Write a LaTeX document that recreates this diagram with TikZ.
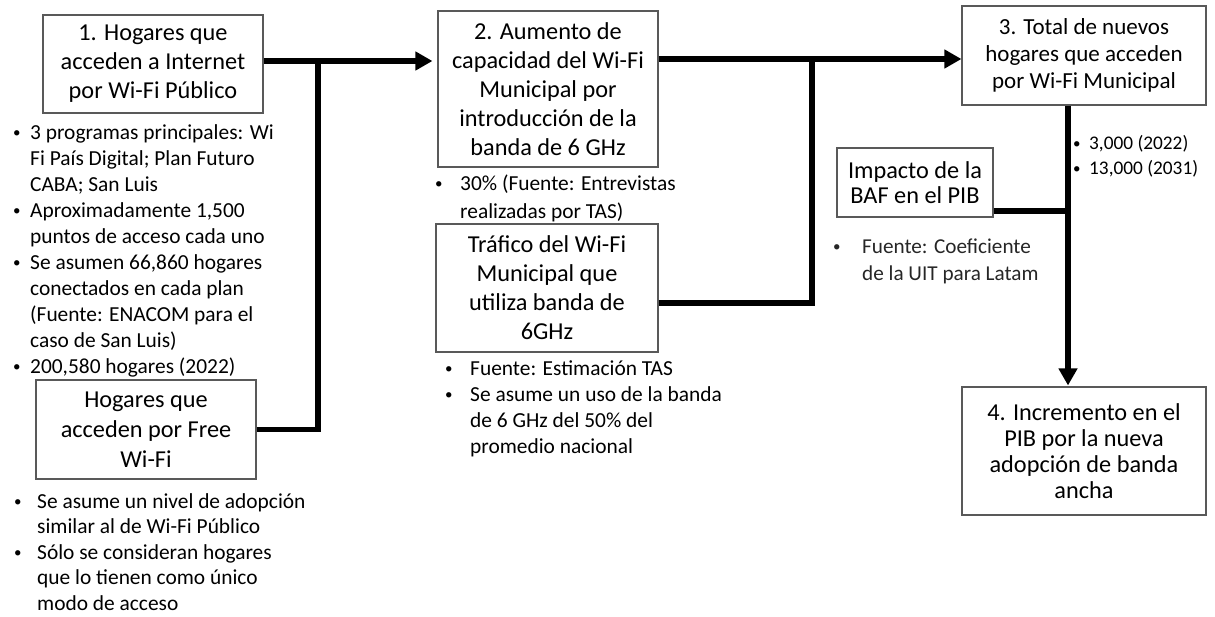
\documentclass[tikz,border=0pt]{standalone}
\usepackage{fontspec}
\setmainfont{Carlito}
\usetikzlibrary{arrows.meta}
\newcommand{\bitem}[1]{\rule{0pt}{18pt}\makebox[#1][l]{\raisebox{1.5pt}{\fontsize{15}{15}\selectfont\textbullet}}}
\newcommand{\bcont}[1]{\hspace*{#1}}
\begin{document}
\begin{tikzpicture}[x=1pt,y=-1pt,
  box/.style={draw=black!65,line width=1.1pt,inner sep=0pt,align=center,
    font=\fontsize{24.3}{29}\selectfont},
  notes/.style={inner sep=0pt,anchor=north west,align=left,
    font=\fontsize{21.4}{26}\selectfont},
  conn/.style={line width=5.5pt,line join=miter},
  arr/.style={conn,-{Triangle[length=17pt,width=18pt]}}]
\useasboundingbox (0,0) rectangle (1215,616);
% boxes
\node[box,minimum width=220pt,minimum height=98pt] (b1) at (153,64)
  {1. Hogares que\\acceden a Internet\\por Wi-Fi Público};
\node[box,minimum width=220pt,minimum height=99pt,
  font=\fontsize{24.3}{30}\selectfont] (fw) at (146,429.5)
  {Hogares que\\acceden por Free\\Wi-Fi};
\node[box,minimum width=220pt,minimum height=156pt] (b2) at (548,89)
  {2. Aumento de\\capacidad del Wi-Fi\\Municipal por\\introducción de la\\banda de 6 GHz};
\node[box,minimum width=222pt,minimum height=128pt] (tr) at (547,288)
  {Tráfico del Wi-Fi\\Municipal que\\utiliza banda de\\6GHz};
\node[box,minimum width=244pt,minimum height=99pt,
  font=\fontsize{23}{27}\selectfont] (b3) at (1084,55.5)
  {3. Total de nuevos\\hogares que acceden\\por Wi-Fi Municipal};
\node[box,minimum width=156pt,minimum height=69pt,
  font=\fontsize{24.3}{25}\selectfont] (imp) at (915,182.5)
  {Impacto de la\\BAF en el PIB};
\node[box,minimum width=244pt,minimum height=128pt,
  font=\fontsize{24.3}{26}\selectfont] (b4) at (1084,451)
  {4. Incremento en el\\PIB por la nueva\\adopción de banda\\ancha};
% notes
\node[notes] (n1) at (13,121)
  {\bitem{17pt}3 programas principales: Wi\\
   \bcont{17pt}Fi País Digital; Plan Futuro\\
   \bcont{17pt}CABA; San Luis\\
   \bitem{17pt}Aproximadamente 1,500\\
   \bcont{17pt}puntos de acceso cada uno\\
   \bitem{17pt}Se asumen 66,860 hogares\\
   \bcont{17pt}conectados en cada plan\\
   \bcont{17pt}(Fuente: ENACOM para el\\
   \bcont{17pt}caso de San Luis)\\
   \bitem{17pt}200,580 hogares (2022)};
\node[notes,font=\fontsize{21.4}{25.5}\selectfont] (n2) at (14,490)
  {\bitem{23pt}Se asume un nivel de adopción\\
   \bcont{23pt}similar al de Wi-Fi Público\\
   \bitem{23pt}Sólo se consideran hogares\\
   \bcont{23pt}que lo tienen como único\\
   \bcont{23pt}modo de acceso};
\node[notes,font=\fontsize{21.4}{28}\selectfont] (n3) at (435,172)
  {\bitem{25pt}30\% (Fuente: Entrevistas\\
   \bcont{25pt}realizadas por TAS)};
\node[notes] (n4) at (445,357)
  {\bitem{25pt}Fuente: Estimación TAS\\
   \bitem{25pt}Se asume un uso de la banda\\
   \bcont{25pt}de 6 GHz del 50\% del\\
   \bcont{25pt}promedio nacional};
\node[notes,font=\fontsize{19.3}{25}\selectfont] (n5) at (1073,131.5)
  {\bitem{16pt}3,000 (2022)\\
   \bitem{16pt}13,000 (2031)};
\node[notes,font=\fontsize{21.2}{27}\selectfont,text=black!85] (n6) at (833,235)
  {\bitem{29pt}Fuente: Coeficiente\\
   \bcont{29pt}de la UIT para Latam};
% connectors
\coordinate (j1) at (318,61);
\coordinate (j2) at (812,59);
\coordinate (t2) at (812,303);
\coordinate (j3) at (1068,211);
\draw[conn] (b1.east |- j1) -- (j1);
\draw[arr,shorten >=5pt] (j1) -- (b2.west |- j1);
\draw[conn] (fw.east) -- (fw.east -| j1) -- ([yshift=-2.75pt]j1);
\draw[conn] (b2.east |- j2) -- (j2);
\draw[conn] (tr.east |- t2) -- (t2) -- ([yshift=-2.75pt]j2);
\draw[arr] (j2) -- (b3.west |- j2);
\draw[arr,shorten >=1pt] (b3.south -| j3) -- (b4.north -| j3);
\draw[conn] (imp.east |- j3) -- ([xshift=2.75pt]j3);
\end{tikzpicture}
\end{document}
